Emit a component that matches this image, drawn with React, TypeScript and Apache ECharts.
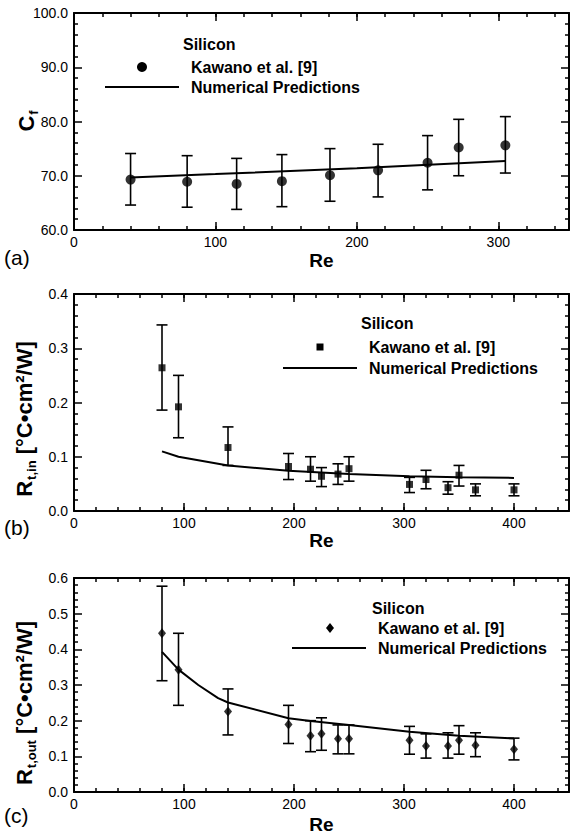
import React, { useEffect, useRef } from 'react';
import * as echarts from 'echarts';

const FONT = '"Liberation Sans", Arial, Helvetica, sans-serif';

// ---------- Panel (a): friction constant ----------
const reA = [40, 80, 115, 147, 181, 215, 250, 272, 305];
const cfA = [69.3, 68.9, 68.5, 69.0, 70.1, 71.0, 72.4, 75.2, 75.6];
const cfLoA = [64.6, 64.2, 63.8, 64.3, 65.3, 66.1, 67.4, 70.0, 70.5];
const cfHiA = [74.1, 73.7, 73.2, 73.9, 75.0, 75.8, 77.4, 80.4, 80.9];
const predReA = [40, 100, 200, 305];
const predCfA = [69.7, 70.3, 71.4, 72.7];

// ---------- Panel (b): inlet thermal resistance ----------
const reB = [80, 95, 140, 195, 215, 225, 240, 250, 305, 320, 340, 350, 365, 400];
const rinB = [0.264, 0.192, 0.117, 0.082, 0.077, 0.064, 0.068, 0.078, 0.049, 0.058, 0.043, 0.066, 0.039, 0.039];
const rinLoB = [0.186, 0.135, 0.084, 0.058, 0.055, 0.045, 0.049, 0.055, 0.034, 0.041, 0.031, 0.046, 0.028, 0.028];
const rinHiB = [0.343, 0.250, 0.155, 0.106, 0.100, 0.080, 0.087, 0.100, 0.062, 0.075, 0.054, 0.084, 0.050, 0.050];
const predReB = [80, 95, 140, 195, 250, 305, 350, 400];
const predRinB = [0.110, 0.100, 0.084, 0.074, 0.068, 0.064, 0.062, 0.061];

// ---------- Panel (c): outlet thermal resistance ----------
const reC = [80, 95, 140, 195, 215, 225, 240, 250, 305, 320, 340, 350, 365, 400];
const routC = [0.445, 0.343, 0.226, 0.189, 0.158, 0.163, 0.149, 0.149, 0.145, 0.129, 0.129, 0.145, 0.131, 0.120];
const routLoC = [0.312, 0.243, 0.160, 0.136, 0.113, 0.117, 0.107, 0.107, 0.106, 0.095, 0.095, 0.106, 0.099, 0.090];
const routHiC = [0.577, 0.445, 0.289, 0.243, 0.200, 0.208, 0.188, 0.188, 0.184, 0.163, 0.166, 0.186, 0.166, 0.151];
const predReC = [80, 95, 113, 131, 140, 195, 215, 250, 305, 350, 400];
const predRoutC = [0.393, 0.343, 0.300, 0.263, 0.251, 0.207, 0.199, 0.188, 0.169, 0.158, 0.150];

// ---------- Axis ranges ----------
const xMaxs = [350, 450, 450];
const yMins = [60, 0, 0];
const yMaxs = [100, 0.4, 0.6];
const yIntervals = [10, 0.1, 0.1];

const legendTitle = 'Silicon';
const legendData = 'Kawano et al. [9]';
const legendPred = 'Numerical Predictions';
const panelLabels = ['(a)', '(b)', '(c)'];

const grids = [
  { left: 74, top: 13, width: 497, height: 217 },
  { left: 74, top: 294, width: 497, height: 217 },
  { left: 74, top: 578, width: 497, height: 220 },
];
const nameGaps = [21, 12, 23];

const black = '#000';

function buildXAxes(p: number) {
  const base = {
    type: 'value',
    gridIndex: p,
    min: 0,
    max: xMaxs[p],
    splitLine: { show: false },
    minorTick: { show: false },
  };
  const minorTickAxis = (position: string, withLabel: boolean) => ({
    ...base,
    position,
    interval: 20,
    axisLine: { show: true, onZero: false, lineStyle: { color: black, width: 2 } },
    axisTick: { show: true, inside: true, length: 4, lineStyle: { color: black, width: 1.5 } },
    axisLabel: withLabel
      ? {
          show: true,
          color: black,
          fontFamily: FONT,
          fontSize: 14,
          margin: 5,
          formatter: (v: number) => (Math.round(v) % 100 === 0 ? String(Math.round(v)) : ''),
        }
      : { show: false },
    ...(withLabel
      ? {
          name: 'Re',
          nameLocation: 'middle',
          nameGap: nameGaps[p],
          nameTextStyle: { color: black, fontFamily: FONT, fontSize: 19, fontWeight: 'bold' },
        }
      : {}),
  });
  const majorTickAxis = (position: string) => ({
    ...base,
    position,
    interval: 100,
    axisLine: { show: false, onZero: false },
    axisTick: { show: true, inside: true, length: 8, lineStyle: { color: black, width: 1.5 } },
    axisLabel: { show: false },
  });
  return [
    minorTickAxis('bottom', true),
    majorTickAxis('bottom'),
    minorTickAxis('top', false),
    majorTickAxis('top'),
  ];
}

function buildYAxes(p: number) {
  const mk = (position: string, withLabel: boolean) => ({
    type: 'value',
    gridIndex: p,
    position,
    min: yMins[p],
    max: yMaxs[p],
    interval: yIntervals[p],
    splitLine: { show: false },
    axisLine: { show: true, onZero: false, lineStyle: { color: black, width: 2 } },
    axisTick: { show: true, inside: true, length: 8, lineStyle: { color: black, width: 1.5 } },
    minorTick: { show: true, splitNumber: 5, length: 4, lineStyle: { color: black, width: 1.5 } },
    axisLabel: withLabel
      ? {
          show: true,
          color: black,
          fontFamily: FONT,
          fontSize: 14,
          margin: 6,
          formatter: (v: number) => v.toFixed(1),
        }
      : { show: false },
  });
  return [mk('left', true), mk('right', false)];
}

function errorBarSeries(p: number, re: number[], lo: number[], hi: number[]) {
  return {
    type: 'custom',
    xAxisIndex: p * 4,
    yAxisIndex: p * 2,
    z: 3,
    encode: { x: 0, y: [1, 2] },
    data: re.map((r, i) => [r, lo[i], hi[i]]),
    renderItem: (_params: any, api: any) => {
      const x = api.value(0);
      const pLo = api.coord([x, api.value(1)]);
      const pHi = api.coord([x, api.value(2)]);
      const w = 5.5;
      const st = { stroke: black, lineWidth: 1.6 };
      return {
        type: 'group',
        children: [
          { type: 'line', shape: { x1: pLo[0], y1: pLo[1], x2: pHi[0], y2: pHi[1] }, style: st },
          { type: 'line', shape: { x1: pLo[0] - w, y1: pLo[1], x2: pLo[0] + w, y2: pLo[1] }, style: st },
          { type: 'line', shape: { x1: pHi[0] - w, y1: pHi[1], x2: pHi[0] + w, y2: pHi[1] }, style: st },
        ],
      };
    },
  };
}

function scatterSeries(p: number, re: number[], v: number[], symbol: string, size: any) {
  return {
    type: 'scatter',
    name: legendData,
    xAxisIndex: p * 4,
    yAxisIndex: p * 2,
    z: 4,
    symbol,
    symbolSize: size,
    itemStyle: { color: black },
    data: re.map((r, i) => [r, v[i]]),
  };
}

function lineSeries(p: number, re: number[], v: number[]) {
  return {
    type: 'line',
    name: legendPred,
    xAxisIndex: p * 4,
    yAxisIndex: p * 2,
    z: 2,
    showSymbol: false,
    symbol: 'none',
    smooth: false,
    lineStyle: { color: black, width: 2 },
    data: re.map((r, i) => [r, v[i]]),
  };
}

// legend anchor positions (pixel layout only)
const legendPos = [
  { tx: 183, ty: 44, mx: 142, my: 67, dx: 191, dy: 67, lx1: 105, lx2: 179, ly: 87 },
  { tx: 361, ty: 323, mx: 320, my: 347, dx: 369, dy: 347, lx1: 283, lx2: 357, ly: 368 },
  { tx: 372, ty: 608, mx: 330, my: 628, dx: 378, dy: 628, lx1: 292, lx2: 366, ly: 648 },
];
const panelLabelPos = [
  { x: 4, y: 257 },
  { x: 4, y: 527 },
  { x: 4, y: 815 },
];
const yTitlePos = [
  { x: 26, y: 121 },
  { x: 24, y: 419 },
  { x: 24, y: 703 },
];
const yTitleSubs = ['f', 't,in', 't,out'];
const yTitleMains = ['C', 'R', 'R'];
const yTitleUnits = ['', ' [°C•cm²/W]', ' [°C•cm²/W]'];

function boldText(text: string, x: number, y: number, size = 16) {
  return {
    type: 'text',
    x,
    y,
    z: 10,
    style: {
      text,
      fill: black,
      fontFamily: FONT,
      fontSize: size,
      fontWeight: 'bold',
      align: 'left',
      verticalAlign: 'middle',
    },
  };
}

function buildGraphics() {
  const g: any[] = [];
  legendPos.forEach((L, p) => {
    g.push(boldText(legendTitle, L.tx, L.ty));
    g.push(boldText(legendData, L.dx, L.dy));
    g.push(boldText(legendPred, L.dx, L.ly));
    g.push({
      type: 'line',
      z: 10,
      shape: { x1: L.lx1, y1: L.ly, x2: L.lx2, y2: L.ly },
      style: { stroke: black, lineWidth: 2 },
    });
    if (p === 0) {
      g.push({ type: 'circle', z: 10, shape: { cx: L.mx, cy: L.my, r: 5 }, style: { fill: black } });
    } else if (p === 1) {
      g.push({ type: 'rect', z: 10, shape: { x: L.mx - 3.5, y: L.my - 3.5, width: 7, height: 7 }, style: { fill: black } });
    } else {
      g.push({
        type: 'polygon',
        z: 10,
        shape: { points: [[L.mx, L.my - 5], [L.mx + 4, L.my], [L.mx, L.my + 5], [L.mx - 4, L.my]] },
        style: { fill: black },
      });
    }
    g.push({
      type: 'text',
      x: panelLabelPos[p].x,
      y: panelLabelPos[p].y,
      z: 10,
      style: {
        text: panelLabels[p],
        fill: black,
        fontFamily: FONT,
        fontSize: 21,
        align: 'left',
        verticalAlign: 'middle',
      },
    });
    g.push({
      type: 'text',
      x: yTitlePos[p].x,
      y: yTitlePos[p].y,
      rotation: Math.PI / 2,
      z: 10,
      style: {
        text: `{m|${yTitleMains[p]}}{s|${yTitleSubs[p]}}` + (yTitleUnits[p] ? `{m|${yTitleUnits[p]}}` : ''),
        fill: black,
        align: 'center',
        verticalAlign: 'middle',
        rich: {
          m: { fontFamily: FONT, fontSize: 22, fontWeight: 'bold', fill: black, lineHeight: 28, verticalAlign: 'middle' },
          s: { fontFamily: FONT, fontSize: 13, fontWeight: 'bold', fill: black, lineHeight: 28, verticalAlign: 'bottom', padding: [0, 0, 0, 1] },
        },
      },
    });
  });
  return g;
}

export default function App() {
  const ref = useRef<HTMLDivElement>(null);
  useEffect(() => {
    if (!ref.current) return;
    const chart = echarts.init(ref.current, undefined, { renderer: 'svg' });
    const xAxis = [0, 1, 2].flatMap((p) => buildXAxes(p));
    const yAxis = [0, 1, 2].flatMap((p) => buildYAxes(p));
    chart.setOption({
      animation: false,
      backgroundColor: '#fff',
      grid: grids.map((g) => ({ ...g, containLabel: false })),
      xAxis,
      yAxis,
      series: [
        lineSeries(0, predReA, predCfA),
        errorBarSeries(0, reA, cfLoA, cfHiA),
        scatterSeries(0, reA, cfA, 'circle', 10),
        lineSeries(1, predReB, predRinB),
        errorBarSeries(1, reB, rinLoB, rinHiB),
        scatterSeries(1, reB, rinB, 'rect', 7),
        lineSeries(2, predReC, predRoutC),
        errorBarSeries(2, reC, routLoC, routHiC),
        scatterSeries(2, reC, routC, 'diamond', [8, 10]),
      ],
      graphic: buildGraphics(),
    });
    return () => chart.dispose();
  }, []);
  return (
    <div
      ref={ref}
      style={{ position: 'absolute', left: 0, top: 0, width: 572, height: 835, background: '#fff' }}
    />
  );
}
